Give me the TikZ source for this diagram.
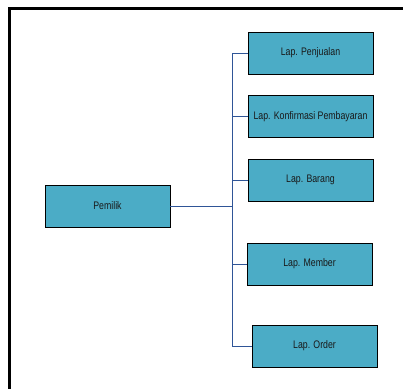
\documentclass[tikz,border=0pt]{standalone}
\usepackage{fontspec}
\setmainfont{Liberation Sans}[FakeStretch=0.8]
\definecolor{boxfill}{HTML}{4BACC6}
\definecolor{linkblue}{HTML}{2F5597}
\begin{document}
\begin{tikzpicture}[x=1bp,y=-1bp,
  box/.style={draw=black,line width=0.9bp,fill=boxfill,minimum width=125bp,minimum height=42bp,inner sep=0pt,
    font=\fontsize{11}{12}\selectfont,text=black!90},
  link/.style={draw=linkblue,line width=0.9bp},
  frameline/.style={line width=3bp,draw=black}]
\useasboundingbox (0,0) rectangle (403,389);
\draw[frameline] (9.5,389) -- (9.5,8.5) -- (403,8.5);
\node[box] (pem) at (107.5,206) {Pemilik};
\node[box] (pen) at (310.5,53) {Lap. Penjualan};
\node[box] (kon) at (310.5,116.5) {Lap. Konfirmasi Pembayaran};
\node[box] (bar) at (310.5,180) {Lap. Barang};
\node[box] (mem) at (309.5,264) {Lap. Member};
\node[box] (ord) at (314.5,346) {Lap. Order};
\coordinate (j) at (232,206);
\draw[link] (pem.east) -- (j);
\draw[link] (pen.west) -| (j);
\draw[link] (kon.west) -| (j);
\draw[link] (bar.west) -| (j);
\draw[link] (mem.west) -| (j);
\draw[link] (ord.west) -| (j);
\end{tikzpicture}
\end{document}
